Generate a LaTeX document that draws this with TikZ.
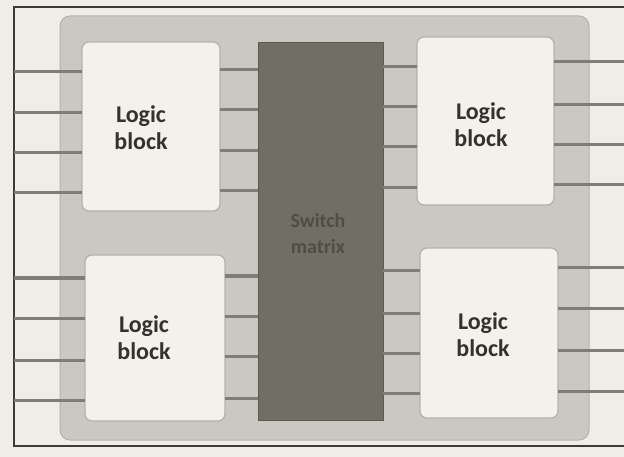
\documentclass[tikz,border=0pt]{standalone}
\usepackage{fontspec}
\setmainfont{Carlito}
\definecolor{paperc}{HTML}{EFEDE6}
\definecolor{chipc}{HTML}{CAC8C0}
\definecolor{blockc}{HTML}{F2F1EB}
\definecolor{edgec}{HTML}{B3B1A9}
\definecolor{matc}{HTML}{706F66}
\definecolor{mattxt}{HTML}{4E4D46}
\definecolor{wirec}{HTML}{7F7D75}
\definecolor{txtc}{HTML}{33322E}
\definecolor{framec}{HTML}{3C3B36}
\begin{document}
\begin{tikzpicture}[x=1pt,y=-1pt,
  wire/.style={draw=wirec,line width=3pt},
  logicbox/.style={draw=edgec,line width=1.2pt,fill=blockc,rounded corners=7pt,
    inner sep=0pt,outer sep=0pt},
  logictext/.style={align=center,text=txtc,font=\bfseries\fontsize{24}{27}\selectfont},
  mattext/.style={align=center,text=mattxt,font=\bfseries\fontsize{20}{26}\selectfont}]
\useasboundingbox (0,0) rectangle (624,457);
\fill[paperc] (0,0) rectangle (624,457);
% chip background
\node[fill=chipc,draw=edgec,line width=1pt,rounded corners=10pt,minimum width=529pt,minimum height=424pt,inner sep=0pt] (chip) at (324.5,228) {};
% frame lines
\coordinate (fl) at (14,0);
\coordinate (fr) at (624,0);
\draw[framec,line width=1.2pt] (fr |- 0,7) -- (fl |- 0,7) -- (fl |- 0,446) -- (fr |- 0,446);
% blocks
\node[fill=matc,draw=matc!80!black,line width=0.8pt,minimum width=125pt,minimum height=378pt,inner sep=0pt] (SM) at (320.5,231) {};
\node[logicbox,minimum width=138pt,minimum height=169pt] (TL) at (151,126.5) {};
\node[logicbox,minimum width=137pt,minimum height=168pt] (TR) at (485.5,121) {};
\node[logicbox,minimum width=140pt,minimum height=166pt] (BL) at (155,338) {};
\node[logicbox,minimum width=138pt,minimum height=170pt] (BR) at (489,333) {};
% wires
\foreach \y in {72,113,153,193} \draw[wire] (fl |- 0,\y) -- (TL.west |- 0,\y);
\foreach \y in {70,110,151,191} \draw[wire] (TL.east |- 0,\y) -- (SM.west |- 0,\y);
\foreach \y in {67,107,147,188} \draw[wire] (SM.east |- 0,\y) -- (TR.west |- 0,\y);
\foreach \y in {62,105,145,185} \draw[wire] (TR.east |- 0,\y) -- (fr |- 0,\y);
\foreach \y in {278,318,360,400} \draw[wire] (fl |- 0,\y) -- (BL.west |- 0,\y);
\foreach \y in {276,316,356,398} \draw[wire] (BL.east |- 0,\y) -- (SM.west |- 0,\y);
\foreach \y in {271,313,353,393} \draw[wire] (SM.east |- 0,\y) -- (BR.west |- 0,\y);
\foreach \y in {268,308,350,391} \draw[wire] (BR.east |- 0,\y) -- (fr |- 0,\y);
% labels
\node[logictext] (TLt) at (141,128) {Logic\\block};
\node[logictext] (TRt) at (481,125) {Logic\\block};
\node[logictext] (BLt) at (144,338) {Logic\\block};
\node[logictext] (BRt) at (483,335) {Logic\\block};
\node[mattext] (SMt) at (318,234) {Switch\\matrix};
\end{tikzpicture}
\end{document}
